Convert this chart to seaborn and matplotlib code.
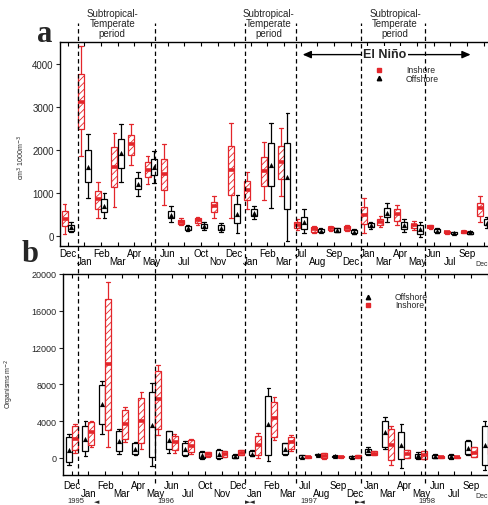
import matplotlib
matplotlib.use("Agg")
import matplotlib.pyplot as plt
import matplotlib.transforms as mtransforms
from matplotlib.lines import Line2D
import numpy as np
import pandas as pd
import seaborn as sns

# ---------------- data ----------------
months = ["Dec", "Jan", "Feb", "Mar", "Apr", "May", "Jun", "Jul", "Oct", "Nov",
          "Dec", "Jan", "Feb", "Mar", "Jul", "Aug", "Sep", "Dec",
          "Jan", "Mar", "Apr", "May", "Jun", "Jul", "Sep", "Dec"]

# Panel a : biovolume (cm3 1000 m-3) - inshore (red, hatched)
a_in_lo  = [60, 1850, 420, 670, 1650, 1200, 725, 250, 260, 425, 425, 630, 840, 940,
            145, 70, 120, 130, 75, 210, 250, 155, 170, 60, 70, 340]
a_in_q1  = [230, 2490, 630, 1135, 1885, 1370, 1075, 280, 310, 555, 960, 850, 1160, 1330,
            185, 90, 145, 155, 285, 250, 365, 185, 185, 75, 80, 480]
a_in_med = [400, 3120, 865, 1600, 2140, 1545, 1445, 325, 380, 695, 1540, 1080, 1520, 1730,
            260, 170, 185, 195, 495, 325, 515, 250, 210, 90, 100, 650]
a_in_q3  = [580, 3770, 1060, 2060, 2350, 1715, 1790, 380, 425, 800, 2100, 1290, 1830, 2100,
            340, 210, 225, 230, 670, 400, 635, 285, 250, 115, 130, 770]
a_in_hi  = [750, 4400, 1265, 2400, 2600, 1870, 2140, 415, 455, 940, 2625, 1480, 2180, 2500,
            400, 230, 240, 250, 890, 480, 735, 365, 270, 125, 140, 940]

# Panel a : offshore (black, triangle = median)
a_off_lo  = [90, 880, 425, 1250, 925, 1235, 340, 130, 145, 90, 75, 400, 655, -100,
             75, 90, 100, 55, 170, 325, 110, -25, 70, 50, 50, 200]
a_off_q1  = [130, 1250, 570, 1575, 1100, 1420, 415, 155, 185, 145, 300, 465, 1160, 630,
             170, 110, 110, 75, 210, 440, 170, 55, 90, 55, 55, 250]
a_off_med = [210, 1600, 710, 1920, 1210, 1600, 500, 185, 230, 195, 515, 540, 1650, 1370,
             340, 130, 145, 110, 260, 540, 260, 170, 130, 75, 90, 310]
a_off_q3  = [250, 2010, 865, 2250, 1350, 1790, 595, 230, 285, 260, 750, 630, 2160, 2160,
             455, 170, 185, 145, 310, 650, 340, 250, 170, 90, 110, 400]
a_off_hi  = [325, 2370, 1000, 2600, 1500, 1970, 695, 250, 325, 300, 960, 695, 2625, 2860,
             630, 185, 200, 170, 340, 770, 400, 325, 185, 100, 120, 450]

# Panel b : organisms m-2 - offshore (black)
b_off_lo  = [-720, 220, 2630, 470, 290, -865, 580, 180, -70, -70, 0, 180, -360, 290,
             0, 250, 70, 0, 360, 1010, -1080, -70, 0, -70, 290, -1330]
b_off_q1  = [-430, 720, 3710, 720, 470, 70, 940, 290, 0, 40, 40, 290, 360, 470,
             40, 290, 110, 40, 470, 1190, -70, 0, 40, 0, 470, -720]
b_off_med = [900, 2090, 5870, 1800, 1010, 3600, 1910, 1010, 360, 470, 220, 470, 3640, 1010,
             140, 360, 180, 110, 830, 2810, 1370, 290, 250, 216, 1080, 1370]
b_off_q3  = [2270, 3530, 7930, 2880, 1620, 7140, 2880, 1660, 650, 900, 360, 720, 6780, 1620,
             290, 430, 250, 220, 1010, 4070, 2810, 470, 360, 360, 1800, 3530]
b_off_hi  = [2560, 4000, 8360, 3170, 1730, 8140, 2920, 1800, 720, 1010, 400, 830, 7570, 1660,
             330, 470, 290, 250, 1190, 4430, 3710, 650, 400, 400, 1910, 4070]

# Panel b : inshore (red, hatched)
b_in_lo  = [580, 1190, 1190, 1730, 1010, 2450, 580, 470, 150, 60, 360, 0, 1910, 720,
            0, -70, 40, 0, 290, -790, 0, -70, 0, 0, 110, 200]
b_in_q1  = [830, 1440, 2990, 2090, 1660, 3170, 830, 650, 220, 110, 360, 360, 2270, 1010,
            40, 0, 70, 40, 290, -250, 0, -70, 40, 20, 110, 400]
b_in_med = [2090, 2810, 10170, 3710, 4070, 6410, 1730, 1260, 430, 430, 580, 1440, 4320, 1730,
            110, 220, 140, 140, 470, 1440, 470, 290, 140, 70, 580, 900]
b_in_q3  = [3530, 3890, 17270, 5230, 6490, 9480, 2380, 1910, 650, 720, 830, 2380, 6050, 2270,
            180, 500, 220, 290, 720, 3170, 830, 720, 220, 150, 1190, 1500]
b_in_hi  = [3640, 4000, 19080, 5510, 7140, 10100, 2560, 2020, 700, 760, 830, 2740, 6600, 2520,
            200, 580, 250, 330, 720, 3530, 830, 720, 250, 180, 1190, 2000]

period_bounds = [0.4, 5.0, 10.45, 13.5, 17.4, 21.25]
period_label_x = [2.45, 11.85, 19.45]
el_nino_span = (13.9, 24.0)
year_labels = ["1995", "1996", "1997", "1998"]
year_x = [0.27, 5.68, 14.28, 21.38]
year_marks = ["\u25c4", "\u25ba\u25c4", "\u25ba\u25c4"]
year_mark_x = [1.53, 10.73, 17.35]

# ---------------- style ----------------
sns.set_style("ticks")
plt.rcParams["font.family"] = ["Liberation Sans", "DejaVu Sans"]
plt.rcParams["hatch.linewidth"] = 0.6
RED = "#e3262b"
plt.rcParams["hatch.color"] = RED

W, H = 488, 506
fig = plt.figure(figsize=(W / 100, H / 100), dpi=100)
fig.patch.set_facecolor("white")

PX0, PXU = 71.5, 16.63       # pixel of month 0, pixels per month
XR = 26.0
right_px = PX0 + PXU * XR


def px_rect(l, t, r, b):
    return [l / W, 1 - b / H, (r - l) / W, (b - t) / H]


ax_a = fig.add_axes(px_rect(60, 43, right_px, 247))
ax_b = fig.add_axes(px_rect(63, 275, right_px, 476))
ax_a.set_xlim((60 - PX0) / PXU, XR)
ax_b.set_xlim((63 - PX0) / PXU, XR)
ax_a.set_ylim(-225, 4500)
ax_b.set_ylim(-1850, 20000)

idx = np.arange(len(months))


def draw_boxes(ax, pos, lo, q1, med, q3, hi, kind):
    stats = [dict(whislo=l, q1=a, med=m, q3=b, whishi=h)
             for l, a, m, b, h in zip(lo, q1, med, q3, hi)]
    if kind == "in":
        col = RED
        boxprops = dict(facecolor="white", edgecolor=RED, hatch="/////", linewidth=0.9)
        medianprops = dict(color=RED, linewidth=2.6, solid_capstyle="butt")
    else:
        col = "black"
        boxprops = dict(facecolor="white", edgecolor="black", linewidth=0.9)
        medianprops = dict(linewidth=0, alpha=0)
    ax.bxp(stats, positions=pos, widths=0.36, capwidths=0.22, patch_artist=True,
           showfliers=False, manage_ticks=False, boxprops=boxprops,
           whiskerprops=dict(color=col, linewidth=0.9),
           capprops=dict(color=col, linewidth=0.9), medianprops=medianprops)
    if kind == "off":
        df = pd.DataFrame({"x": pos, "y": med})
        sns.scatterplot(data=df, x="x", y="y", marker="^", color="black", s=14,
                        linewidth=0, ax=ax, legend=False, zorder=5)


# panel a: inshore left, offshore right
shift_a = -0.22
draw_boxes(ax_a, idx + shift_a - 0.2, a_in_lo, a_in_q1, a_in_med, a_in_q3, a_in_hi, "in")
draw_boxes(ax_a, idx + shift_a + 0.2, a_off_lo, a_off_q1, a_off_med, a_off_q3, a_off_hi, "off")
# panel b: offshore left, inshore right
shift_b = 0.02
draw_boxes(ax_b, idx + shift_b - 0.18, b_off_lo, b_off_q1, b_off_med, b_off_q3, b_off_hi, "off")
draw_boxes(ax_b, idx + shift_b + 0.18, b_in_lo, b_in_q1, b_in_med, b_in_q3, b_in_hi, "in")


def setup_axes(ax, shift, pad1, pad2, yticks, ylabsize, last_top_px):
    even = idx[::2]
    odd = idx[1::2]
    ax.set_xticks(even + shift)
    ax.set_xticklabels([months[i] for i in even])
    ax.set_xticks(odd + shift, minor=True)
    # last label sits on the cropped right edge: drawn separately below
    ax.set_xticklabels([months[i] for i in odd[:-1]] + [""], minor=True)
    fig.text(487.5 / W, 1 - last_top_px / H, months[odd[-1]], ha="right", va="top",
             fontsize=5)
    ax.tick_params(axis="x", which="both", direction="in", length=3, width=0.8,
                   top=True, labelsize=7, colors="black")
    ax.tick_params(axis="x", which="major", pad=pad1)
    ax.tick_params(axis="x", which="minor", pad=pad2)
    ax.set_yticks(yticks)
    ax.set_yticklabels([str(v) for v in yticks])
    ax.tick_params(axis="y", direction="out", length=3, width=0.8, labelsize=ylabsize, pad=1.5)
    for s in ax.spines.values():
        s.set_linewidth(1.0)
        s.set_color("black")
    ax.set_xlabel("")


setup_axes(ax_a, shift_a, 1.5, 7.3, [0, 1000, 2000, 3000, 4000], 7, 260.8)
setup_axes(ax_b, shift_b, 3.6, 9.4, [0, 4000, 8000, 12000, 16000, 20000], 6.5, 493)

ax_a.set_ylabel("cm$^3$ 1000m$^{-3}$", fontsize=5)
ax_a.yaxis.set_label_coords((27 - 60) / (right_px - 60), 0.44)
ax_b.set_ylabel("Organisms m$^{-2}$", fontsize=5)
ax_b.yaxis.set_label_coords((16 - 63) / (right_px - 63), 0.46)

# legends (manual)
def legend_rows(ax, l, t, b, mk_px, txt_px, rows):
    aw = right_px - l
    for (mk, col, ms, lab, ypx) in rows:
        yy = 1 - (ypx - t) / (b - t)
        ax.plot([(mk_px - l) / aw], [yy], marker=mk, color=col,
                ms=ms, ls="", transform=ax.transAxes, clip_on=False, zorder=6)
        ax.text((txt_px - l) / aw, yy, lab, fontsize=6.2,
                va="center", ha="left", transform=ax.transAxes)

legend_rows(ax_a, 60, 43, 247, 379, 406,
            [("s", RED, 3.2, "Inshore", 70.7), ("^", "black", 3.2, "Offshore", 79)])
legend_rows(ax_b, 63, 275, 476, 368, 395,
            [("^", "black", 3.2, "Offshore", 297.5), ("s", RED, 3.2, "Inshore", 306)])

# El Nino arrow
ax_a.annotate("", xy=(el_nino_span[1], 4208), xytext=(el_nino_span[0], 4208),
              arrowprops=dict(arrowstyle="<|-|>,head_length=0.5,head_width=0.22",
                              color="black", lw=1, shrinkA=0, shrinkB=0))
ax_a.text(np.mean(el_nino_span) - 0.1, 4225, "El Niño", ha="center", va="center",
          fontsize=9, fontweight="bold", zorder=7,
          bbox=dict(fc="white", ec="none", pad=1.3))

# period dashed lines spanning both panels
blend = mtransforms.blended_transform_factory(ax_b.transData, fig.transFigure)
for b in period_bounds:
    fig.add_artist(Line2D([b, b], [1 - 484 / H, 1 - 24 / H], transform=blend,
                          color="black", lw=0.9, ls=(0, (3.5, 2.5)), zorder=10))
for xc in period_label_x:
    fig.text(xc, 1 - 24 / H, "Subtropical-\nTemperate\nperiod", transform=blend,
             ha="center", va="center", fontsize=7, linespacing=1.05)

# year labels at bottom edge
for xv, lab in zip(year_x, year_labels):
    fig.text(xv, 1 / H, lab, transform=blend, ha="center", va="bottom", fontsize=5.5)
for xv, lab in zip(year_mark_x, year_marks):
    fig.text(xv, 1 / H, lab, transform=blend, ha="center", va="bottom", fontsize=5,
             family=["DejaVu Sans"])

# panel letters
fig.text(45 / W, 1 - 42 / H, "a", fontsize=22, fontweight="bold",
         family=["Liberation Serif", "DejaVu Serif"], ha="center", va="baseline")
fig.text(30 / W, 1 - 262 / H, "b", fontsize=22, fontweight="bold",
         family=["Liberation Serif", "DejaVu Serif"], ha="center", va="baseline")

fig.savefig("out.png", dpi=100, facecolor="white")
